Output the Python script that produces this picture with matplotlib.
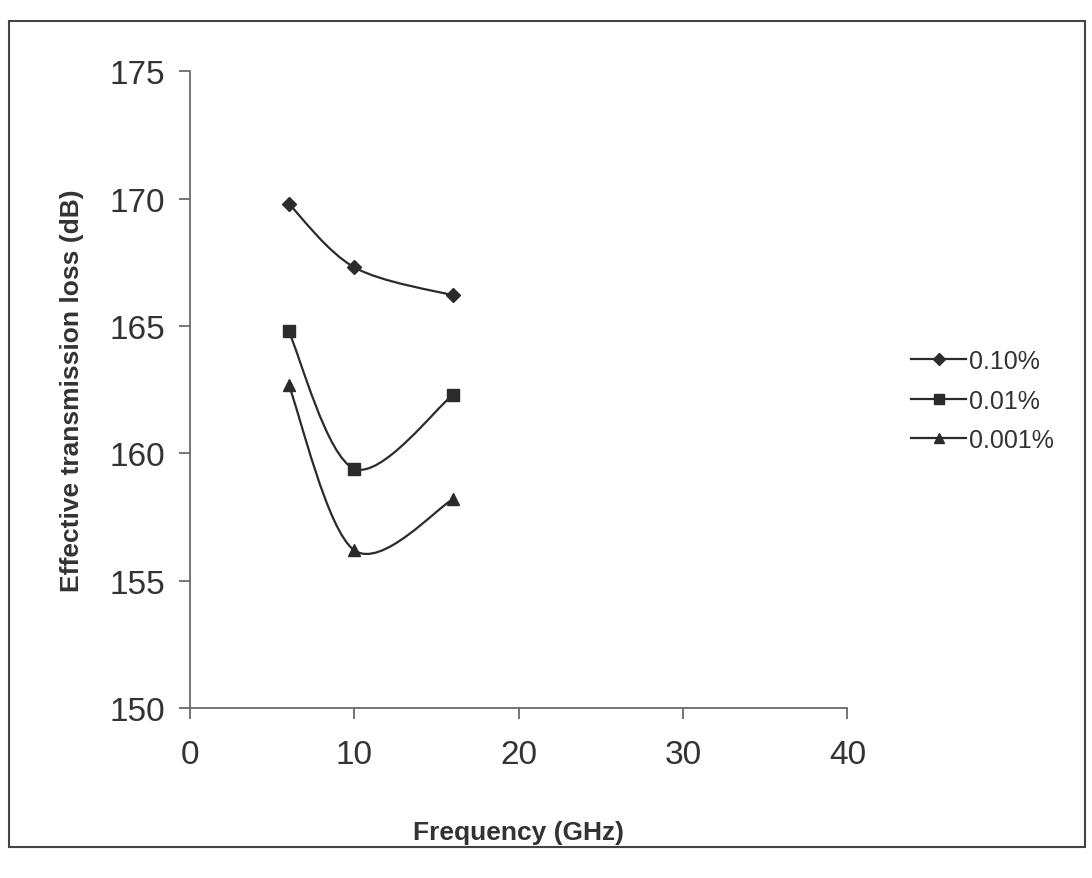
import numpy as np
import matplotlib
matplotlib.use("Agg")
import matplotlib.pyplot as plt
from matplotlib.path import Path
from matplotlib.patches import PathPatch, Rectangle
from matplotlib.lines import Line2D

plt.rcParams['font.family'] = ['Liberation Sans', 'DejaVu Sans']

# frequency (GHz) and effective transmission loss (dB) per availability level
freq = [6, 10, 16]
loss_010 = [169.8, 167.3, 166.2]
loss_001 = [164.8, 159.4, 162.3]
loss_0001 = [162.7, 156.2, 158.2]
series_labels = ['0.10%', '0.01%', '0.001%']
series_markers = ['D', 's', '^']

x_ticks = [0, 10, 20, 30, 40]
y_ticks = [150, 155, 160, 165, 170, 175]

line_col = '#2b2b2b'


def smooth_path(xs, ys):
    # Catmull-Rom style bezier segments, like a spreadsheet "smoothed line"
    pts = np.column_stack([xs, ys]).astype(float)
    ext = np.vstack([pts[0], pts, pts[-1]])
    verts = [pts[0]]
    codes = [Path.MOVETO]
    for i in range(1, len(ext) - 2):
        p0, p1, p2, p3 = ext[i - 1], ext[i], ext[i + 1], ext[i + 2]
        c1 = p1 + (p2 - p0) / 6.0
        c2 = p2 - (p3 - p1) / 6.0
        verts += [c1, c2, p2]
        codes += [Path.CURVE4] * 3
    return Path(verts, codes)


fig = plt.figure(figsize=(10.92, 8.79), dpi=100)
ax = fig.add_axes([0.174, 0.193, 0.602, 0.725])

for ys, lab, mk in zip([loss_010, loss_001, loss_0001], series_labels, series_markers):
    ax.add_patch(PathPatch(smooth_path(freq, ys), facecolor='none',
                           edgecolor=line_col, lw=1.6, zorder=2))
    ax.plot(freq, ys, linestyle='none', marker=mk, color=line_col,
            markersize=9 if mk != 'D' else 7.5, zorder=3)

ax.set_xlim(0, 40)
ax.set_ylim(150, 175)
ax.set_xticks(x_ticks)
ax.set_yticks(y_ticks)
for s in ['top', 'right']:
    ax.spines[s].set_visible(False)
for s in ['left', 'bottom']:
    ax.spines[s].set_color('#6a6a6a')
    ax.spines[s].set_linewidth(1.3)
ax.tick_params(direction='out', length=8, width=1.3, color='#6a6a6a',
               labelsize=24, labelcolor='#333333')
ax.tick_params(axis='y', pad=10)
ax.tick_params(axis='x', pad=14)

ax.set_xlabel('Frequency (GHz)', fontsize=19, fontweight='bold',
              color='#333333', labelpad=36)
ax.set_ylabel('Effective transmission loss (dB)', fontsize=19, fontweight='bold',
              color='#333333', labelpad=18)

handles = [Line2D([], [], color=line_col, lw=1.6, marker=mk,
                  markersize=7 if mk != 'D' else 6)
           for mk in series_markers]
fig.legend(handles, series_labels, loc='center left',
           bbox_to_anchor=(0.814, 0.543), frameon=False, fontsize=18,
           labelcolor='#333333', handlelength=2.2, handletextpad=0.1,
           labelspacing=0.62)

# thin frame around the whole chart
fig.add_artist(Rectangle((0.008, 0.035), 0.986, 0.94, transform=fig.transFigure,
                         fill=False, edgecolor='#444444', lw=1.5))

fig.savefig('out.png', dpi=100)
